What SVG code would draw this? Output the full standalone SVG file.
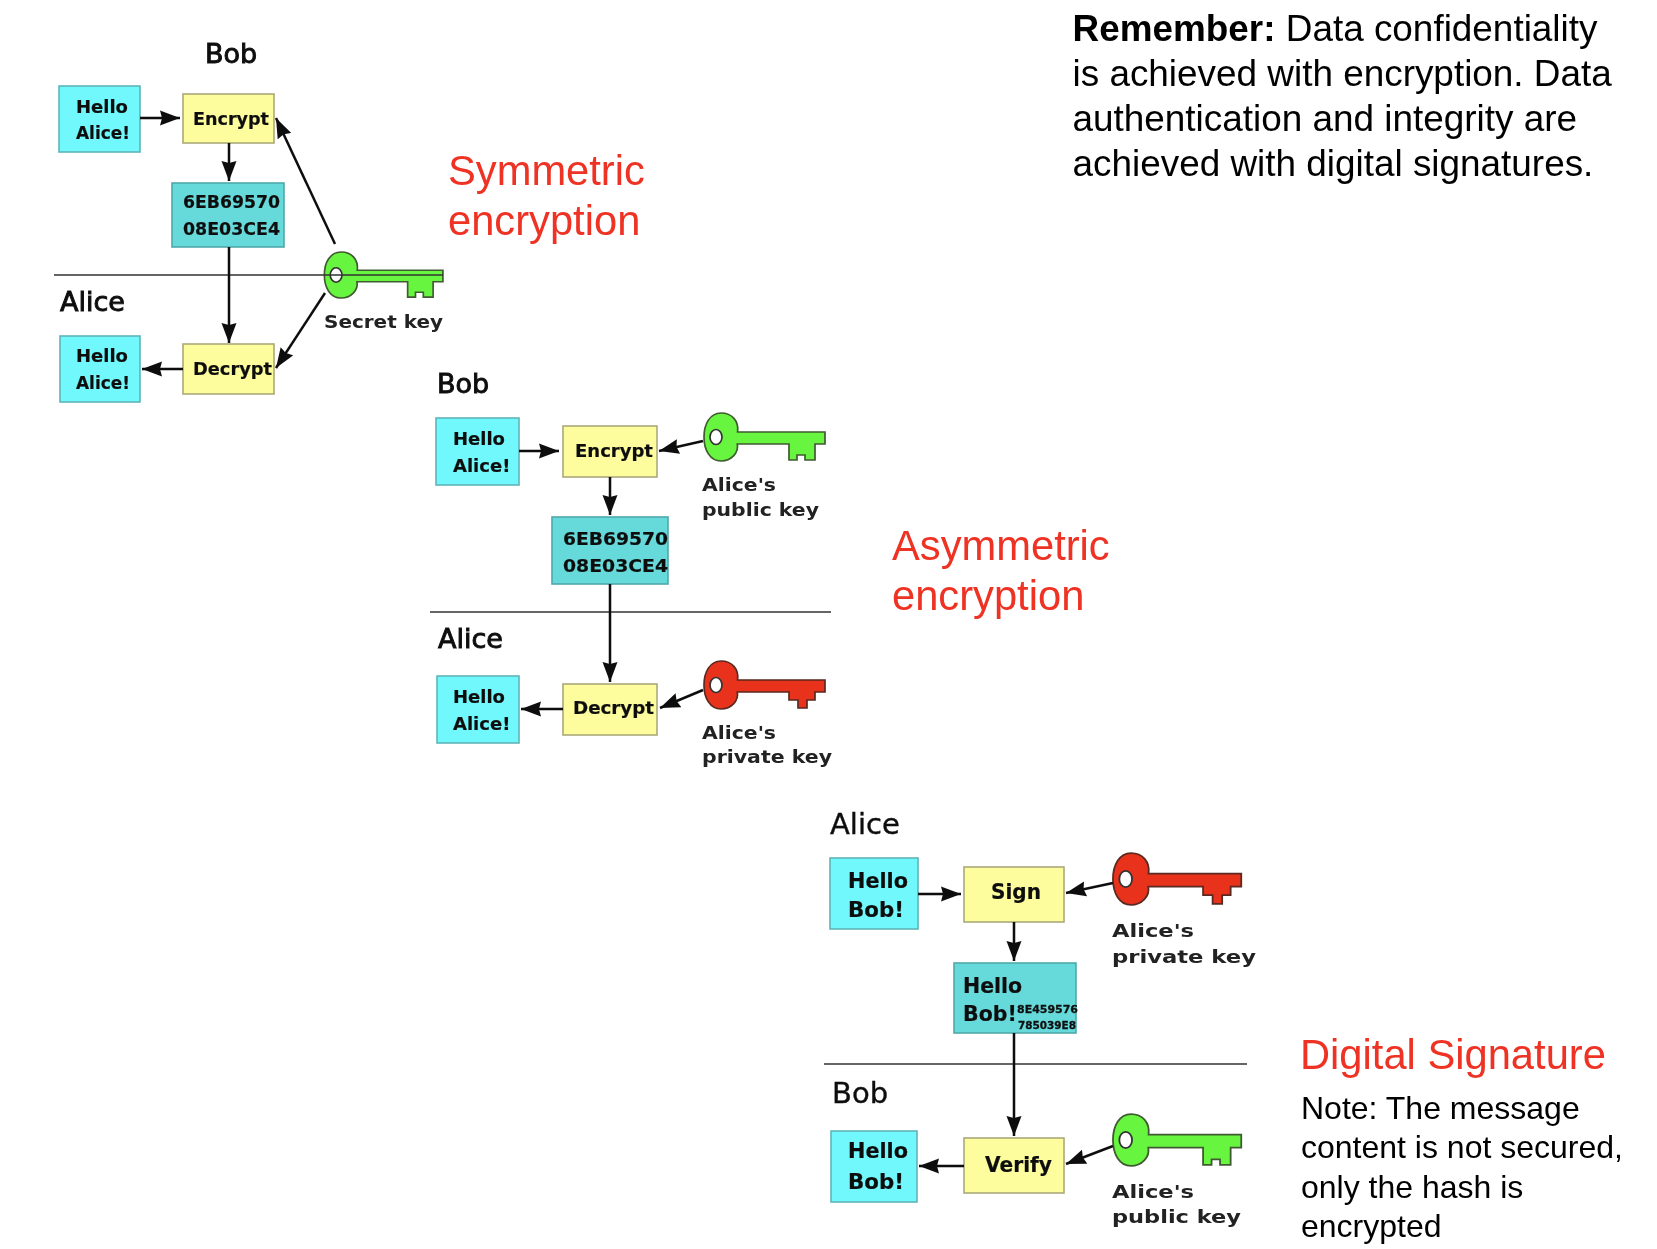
<svg xmlns="http://www.w3.org/2000/svg" xmlns:xlink="http://www.w3.org/1999/xlink" width="1657" height="1249" viewBox="0 0 1657 1249">
<style>
text{font-family:"DejaVu Sans",sans-serif;fill:#111}
.soft{filter:url(#soft)}
.msg{fill:#6ff8fc;stroke:#5fb5b8;stroke-width:1.6}
.op{fill:#fdfd9e;stroke:#aaa97a;stroke-width:1.6}
.enc{fill:#66dadb;stroke:#4fa9aa;stroke-width:1.6}
.who{font-size:27px;stroke:#111;stroke-width:.95}
.who3{font-size:29px;stroke:#111;stroke-width:.4}
.t18{font-size:18px;font-weight:bold;stroke:#111;stroke-width:.2}
.t20{font-size:20.5px;font-weight:bold;stroke:#111;stroke-width:.2}
.klab{font-size:17px;font-weight:bold;fill:#222}
.klab3{font-size:18px;font-weight:bold;fill:#222}
.tiny{font-size:11px;font-weight:bold;stroke:#111;stroke-width:.3}
.sep{stroke:#333;stroke-width:1.7;fill:none}
.arr{stroke:#111;stroke-width:2.5;fill:none;marker-end:url(#ah)}
.sans{font-family:"Liberation Sans",Arial,sans-serif}
.red{font-size:41.7px;fill:#ee3224}
.note{font-size:32px;fill:#000}
.rem{font-size:36.9px;fill:#000}
</style>
<defs>
<filter id="soft" filterUnits="userSpaceOnUse" x="0" y="0" width="1657" height="1249"><feGaussianBlur stdDeviation="0.7"/></filter>
<marker id="ah" markerUnits="userSpaceOnUse" markerWidth="21" markerHeight="16" viewBox="0 0 21 16" refX="20" refY="8" orient="auto"><path d="M0,0.5 L20,8 L0,15.5 L2,8 z" fill="#111"/></marker>
<g id="keyGreen"><path d="M16.6,-5 C18,-16 11,-24 0,-24 C-11,-24 -17,-13 -17,0 C-17,13 -11,24 0,24 C10,24 18,16 16.3,7 L68,7 L68,23 L76,23 L76,18 L84,18 L84,23 L94,23 L94,7 L104,7 L104,-5 z" fill="#68f53f" stroke="#3f5a30" stroke-width="1.7"/><ellipse cx="-5" cy="0" rx="6" ry="7.5" fill="#fff" stroke="#333" stroke-width="1.7"/></g>
<g id="keyRed"><path d="M16.6,-5 C18,-16 11,-24 0,-24 C-11,-24 -17,-13 -17,0 C-17,13 -11,24 0,24 C10,24 18,16 16.3,7 L68,7 L68,15 L77,15 L77,23 L86,23 L86,15 L94,15 L94,7 L104,7 L104,-5 z" fill="#e9321f" stroke="#5a2a20" stroke-width="1.7"/><ellipse cx="-5" cy="0" rx="6" ry="7.5" fill="#fff" stroke="#333" stroke-width="1.7"/></g>
<clipPath id="clipPub"><rect x="1100" y="1180" width="180" height="47"/></clipPath>
</defs>
<rect width="1657" height="1249" fill="#fff"/>

<g id="symmetric" class="soft">
<text class="who" x="205" y="63">Bob</text>
<text class="who" x="60" y="311">Alice</text>
<g id="s-hello1"><rect class="msg" x="59" y="86" width="81" height="66"/><text class="t18" x="76" y="113">Hello</text><text class="t18" x="76" y="139" textLength="54" lengthAdjust="spacingAndGlyphs">Alice!</text></g>
<g id="s-encrypt"><rect class="op" x="183" y="94" width="91" height="49"/><text class="t18" x="193" y="125" textLength="76" lengthAdjust="spacingAndGlyphs">Encrypt</text></g>
<g id="s-cipher"><rect class="enc" x="172" y="183" width="112" height="64"/><text class="t18" x="183" y="208" textLength="97" lengthAdjust="spacingAndGlyphs">6EB69570</text><text class="t18" x="183" y="235" textLength="97" lengthAdjust="spacingAndGlyphs">08E03CE4</text></g>
<g id="s-decrypt"><rect class="op" x="183" y="344" width="91" height="50"/><text class="t18" x="193" y="375" textLength="79" lengthAdjust="spacingAndGlyphs">Decrypt</text></g>
<g id="s-hello2"><rect class="msg" x="60" y="336" width="80" height="66"/><text class="t18" x="76" y="362">Hello</text><text class="t18" x="76" y="389" textLength="54" lengthAdjust="spacingAndGlyphs">Alice!</text></g>
<g id="s-key"><use xlink:href="#keyGreen" href="#keyGreen" transform="translate(341,275) scale(.98,.96)"/><text class="klab" x="324" y="328" textLength="119" lengthAdjust="spacingAndGlyphs">Secret key</text></g>
</g>

<g id="asymmetric" class="soft">
<text class="who" x="437" y="393">Bob</text>
<text class="who" x="438" y="648">Alice</text>
<g id="a-hello1"><rect class="msg" x="436" y="418" width="83" height="67"/><text class="t18" x="453" y="445">Hello</text><text class="t18" x="453" y="472">Alice!</text></g>
<g id="a-encrypt"><rect class="op" x="563" y="426" width="94" height="51"/><text class="t18" x="575" y="457" textLength="78" lengthAdjust="spacingAndGlyphs">Encrypt</text></g>
<g id="a-cipher"><rect class="enc" x="552" y="517" width="116" height="67"/><text class="t18" x="563" y="545" textLength="105" lengthAdjust="spacingAndGlyphs">6EB69570</text><text class="t18" x="563" y="572" textLength="105" lengthAdjust="spacingAndGlyphs">08E03CE4</text></g>
<g id="a-decrypt"><rect class="op" x="563" y="684" width="94" height="51"/><text class="t18" x="573" y="714" textLength="81" lengthAdjust="spacingAndGlyphs">Decrypt</text></g>
<g id="a-hello2"><rect class="msg" x="437" y="676" width="82" height="67"/><text class="t18" x="453" y="703">Hello</text><text class="t18" x="453" y="730">Alice!</text></g>
<g id="a-pubkey"><use xlink:href="#keyGreen" href="#keyGreen" transform="translate(721,437)"/><text class="klab" x="702" y="491" textLength="74" lengthAdjust="spacingAndGlyphs">Alice's</text><text class="klab" x="702" y="516" textLength="117" lengthAdjust="spacingAndGlyphs">public key</text></g>
<g id="a-privkey"><use xlink:href="#keyRed" href="#keyRed" transform="translate(721,685)"/><text class="klab" x="702" y="739" textLength="74" lengthAdjust="spacingAndGlyphs">Alice's</text><text class="klab" x="702" y="763" textLength="130" lengthAdjust="spacingAndGlyphs">private key</text></g>
</g>

<g id="signature" class="soft">
<text class="who3" x="830" y="834">Alice</text>
<text class="who3" x="832" y="1103">Bob</text>
<g id="d-hello1"><rect class="msg" x="830" y="858" width="88" height="71"/><text class="t20" x="848" y="888" textLength="60" lengthAdjust="spacingAndGlyphs">Hello</text><text class="t20" x="848" y="917" textLength="56" lengthAdjust="spacingAndGlyphs">Bob!</text></g>
<g id="d-sign"><rect class="op" x="964" y="867" width="100" height="55"/><text class="t20" x="991" y="899" textLength="50" lengthAdjust="spacingAndGlyphs">Sign</text></g>
<g id="d-signed"><rect class="enc" x="954" y="963" width="122" height="70"/><text class="t20" x="963" y="993">Hello</text><text class="t20" x="963" y="1021">Bob!</text><text class="tiny" x="1017" y="1013" textLength="61" lengthAdjust="spacingAndGlyphs">8E459576</text><text class="tiny" x="1018" y="1029" textLength="58" lengthAdjust="spacingAndGlyphs">785039E8</text></g>
<g id="d-verify"><rect class="op" x="964" y="1138" width="100" height="55"/><text class="t20" x="985" y="1172" textLength="67" lengthAdjust="spacingAndGlyphs">Verify</text></g>
<g id="d-hello2"><rect class="msg" x="831" y="1131" width="86" height="71"/><text class="t20" x="848" y="1158" textLength="60" lengthAdjust="spacingAndGlyphs">Hello</text><text class="t20" x="848" y="1189" textLength="56" lengthAdjust="spacingAndGlyphs">Bob!</text></g>
<g id="d-privkey"><use xlink:href="#keyRed" href="#keyRed" transform="translate(1131,879) scale(1.06,1.08)"/><text class="klab3" x="1112" y="937" textLength="82" lengthAdjust="spacingAndGlyphs">Alice's</text><text class="klab3" x="1112" y="963" textLength="144" lengthAdjust="spacingAndGlyphs">private key</text></g>
<g id="d-pubkey"><use xlink:href="#keyGreen" href="#keyGreen" transform="translate(1131,1140) scale(1.06,1.08)"/><text class="klab3" x="1112" y="1198" textLength="82" lengthAdjust="spacingAndGlyphs">Alice's</text><text class="klab3" x="1112" y="1223" textLength="129" lengthAdjust="spacingAndGlyphs" clip-path="url(#clipPub)">public key</text></g>
</g>

<g id="connectors" class="soft">
<path class="sep" d="M54,275H443"/>
<path class="sep" d="M430,612H831"/>
<path class="sep" d="M824,1064H1247"/>
<path class="arr" d="M140,118H180"/>
<path class="arr" d="M229,143V181"/>
<path class="arr" d="M229,247V343"/>
<path class="arr" d="M183,369H142"/>
<path class="arr" d="M335,244L276,118"/>
<path class="arr" d="M325,293L276,368"/>
<path class="arr" d="M519,451H559"/>
<path class="arr" d="M610,477V515"/>
<path class="arr" d="M610,584V682"/>
<path class="arr" d="M563,709H521"/>
<path class="arr" d="M703,441L659,451"/>
<path class="arr" d="M703,690L660,708"/>
<path class="arr" d="M918,894H961"/>
<path class="arr" d="M1014,922V961"/>
<path class="arr" d="M1014,1033V1136"/>
<path class="arr" d="M964,1166H919"/>
<path class="arr" d="M1113,883L1066,893"/>
<path class="arr" d="M1113,1146L1066,1164"/>
</g>

<g id="captions" class="sans">
<text class="sans red" x="448" y="185">Symmetric</text>
<text class="sans red" x="448" y="235">encryption</text>
<text class="sans red" x="892" y="560">Asymmetric</text>
<text class="sans red" x="892" y="610">encryption</text>
<text class="sans red" x="1300" y="1069">Digital Signature</text>
<text class="sans note" x="1301" y="1118.5">Note: The message</text>
<text class="sans note" x="1301" y="1157.5">content is not secured,</text>
<text class="sans note" x="1301" y="1197.5">only the hash is</text>
<text class="sans note" x="1301" y="1237">encrypted</text>
<text class="sans rem" x="1072.5" y="41"><tspan font-weight="bold">Remember:</tspan> Data confidentiality</text>
<text class="sans rem" x="1072.5" y="86">is achieved with encryption. Data</text>
<text class="sans rem" x="1072.5" y="131">authentication and integrity are</text>
<text class="sans rem" x="1072.5" y="176">achieved with digital signatures.</text>
</g>
</svg>
